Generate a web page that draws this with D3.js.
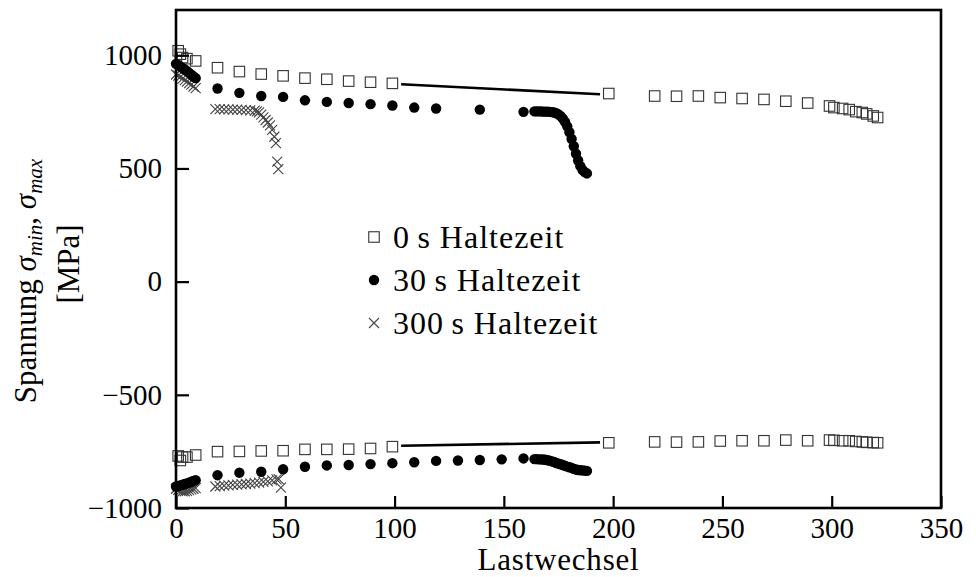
<!DOCTYPE html>
<html>
<head>
<meta charset="utf-8">
<script src="https://cdn.jsdelivr.net/npm/d3@7"></script>
<style>
  html, body { margin: 0; padding: 0; background: #fff; }
  svg { display: block; }
  text { font-family: "Liberation Serif", "Times New Roman", serif; fill: #000; }
</style>
</head>
<body>
<svg id="chart" width="976" height="577"></svg>
<script>
// Axis ticks
const xTicks = [0, 50, 100, 150, 200, 250, 300, 350];
const yTicks = [-1000, -500, 0, 500, 1000];

// 0 s hold time (squares): cycle, upper stress, lower stress
const cyc0 = [1, 2, 3, 5, 9, 19, 29, 39, 49, 59, 69, 79, 89, 99, 198, 219, 229, 239, 249, 259, 269, 279, 289, 299, 301, 305, 308, 311, 314, 316, 319, 321];
const max0 = [1020, 1005, 990, 985, 975, 945, 928, 917, 909, 899, 894, 886, 881, 876, 831, 820, 819, 820, 813, 809, 805, 797, 789, 776, 769, 765, 760, 751, 747, 741, 732, 725];
const min0 = [-770, -790, -775, -775, -766, -751, -750, -748, -747, -741, -741, -740, -737, -729, -712, -708, -709, -708, -704, -703, -703, -700, -703, -700, -701, -703, -703, -706, -708, -710, -711, -712];

// Bridging segments across the unrecorded cycles of the 0 s test
const gapCyc = [103, 194];
const gapMax = [872, 828];
const gapMin = [-725, -710];

// 30 s hold time (filled circles)
const cyc30Max = [0, 1, 2, 3, 4, 5, 6, 7, 8, 9, 19, 29, 39, 49, 59, 69, 79, 89, 99, 109, 119, 139, 159,
  164, 165, 166, 167, 168, 169, 170, 171, 172, 173, 174, 175, 176, 177, 178, 179, 180, 181, 182, 183, 184, 185, 186, 187, 188];
const max30 = [962, 957, 950, 943, 937, 930, 922, 914, 906, 899, 853, 834, 820, 816, 801, 794, 789, 784, 778, 769, 765, 760, 750,
  752, 752, 752, 752, 751, 751, 751, 750, 749, 747, 744, 739, 731, 720, 705, 686, 660, 630, 598, 565, 535, 510, 493, 484, 478];
const cyc30Min = [0, 1, 2, 3, 4, 5, 6, 7, 8, 9, 19, 29, 39, 49, 59, 69, 79, 89, 99, 109, 119, 129, 139, 149, 159,
  164, 165, 166, 167, 168, 169, 170, 171, 172, 173, 174, 175, 176, 177, 178, 179, 180, 181, 182, 183, 184, 185, 186, 187, 188];
const min30 = [-905, -903, -900, -897, -894, -891, -888, -884, -880, -877, -855, -844, -840, -829, -818, -812, -810, -806, -802, -798, -792, -790, -788, -785, -781,
  -784, -784, -785, -785, -786, -787, -789, -791, -794, -797, -801, -804, -807, -810, -814, -817, -820, -823, -827, -830, -832, -833, -834, -835, -836];

// 300 s hold time (crosses)
const cyc300Max = [0, 1, 2, 3, 4, 5, 6, 7, 8, 9, 18, 20, 22, 24, 26, 28, 30, 32, 34, 36, 37, 38, 39, 40, 41, 42, 43, 44, 45, 45.7, 46.3, 46.8];
const max300 = [915, 910, 905, 897, 890, 884, 877, 870, 862, 855, 762, 762, 761, 761, 760, 760, 759, 758, 757, 755, 752, 748, 738, 726, 714, 703, 690, 670, 640, 612, 530, 497];
const cyc300Min = [0, 1, 2, 3, 4, 5, 6, 7, 8, 9, 18, 20, 22, 24, 26, 28, 30, 32, 34, 36, 38, 40, 42, 44, 46, 47, 48];
const min300 = [-915, -920, -924, -926, -926, -924, -921, -918, -915, -912, -905, -903, -901, -900, -898, -897, -896, -894, -892, -890, -888, -885, -882, -878, -874, -872, -910];

const legendLabels = ["0\u2009s Haltezeit", "30\u2009s Haltezeit", "300\u2009s Haltezeit"];

const svg = d3.select("#chart");
const margin = { left: 176, right: 941, top: 10, bottom: 508 };

const x = d3.scaleLinear().domain([0, 350]).range([margin.left, margin.right]);
const y = d3.scaleLinear().domain([-1000, 1200]).range([margin.bottom, margin.top]);

const pts = (cs, vs) => cs.map((c, i) => [c, vs[i]]);

const plot = svg.append("g");

// Bridging lines
[gapMax, gapMin].forEach(vals => {
  plot.append("path")
    .attr("d", d3.line().x(d => x(d[0])).y(d => y(d[1]))(pts(gapCyc, vals)))
    .attr("fill", "none").attr("stroke", "#000").attr("stroke-width", 2.6);
});

// Marker helpers
const sq = 10.5;
function squares(g, data) {
  g.selectAll(null).data(data).join("rect")
    .attr("x", d => x(d[0]) - sq / 2).attr("y", d => y(d[1]) - sq / 2)
    .attr("width", sq).attr("height", sq)
    .attr("fill", "none").attr("stroke", "#333").attr("stroke-width", 1.1);
}
function circles(g, data) {
  g.selectAll(null).data(data).join("circle")
    .attr("cx", d => x(d[0])).attr("cy", d => y(d[1])).attr("r", 5.2)
    .attr("fill", "#000");
}
const cr = 5;
function crosses(g, data) {
  g.selectAll(null).data(data).join("path")
    .attr("d", d => {
      const cx = x(d[0]), cy = y(d[1]);
      return `M${cx - cr},${cy - cr}L${cx + cr},${cy + cr}M${cx - cr},${cy + cr}L${cx + cr},${cy - cr}`;
    })
    .attr("fill", "none").attr("stroke", "#444").attr("stroke-width", 1.1);
}

squares(plot.append("g"), pts(cyc0, max0));
squares(plot.append("g"), pts(cyc0, min0));
crosses(plot.append("g"), pts(cyc300Max, max300));
crosses(plot.append("g"), pts(cyc300Min, min300));
circles(plot.append("g"), pts(cyc30Max, max30));
circles(plot.append("g"), pts(cyc30Min, min30));

// Axes with inward ticks
const fs = 29;
const fmt = d3.format("d");
const xAxis = d3.axisBottom(x).tickValues(xTicks).tickFormat(fmt).tickSizeInner(-12).tickSizeOuter(0).tickPadding(9);
const gx = svg.append("g").attr("transform", `translate(0,${margin.bottom})`).call(xAxis);
gx.select(".domain").remove();
gx.selectAll(".tick line").attr("stroke", "#000").attr("stroke-width", 2.2);
gx.selectAll(".tick text").attr("font-size", fs).attr("font-family", "Liberation Serif").attr("fill", "#000");

const yAxis = d3.axisLeft(y).tickValues(yTicks).tickFormat(fmt).tickSizeInner(-13).tickSizeOuter(0).tickPadding(14);
const gy = svg.append("g").attr("transform", `translate(${margin.left},0)`).call(yAxis);
gy.select(".domain").remove();
gy.selectAll(".tick line").attr("stroke", "#000").attr("stroke-width", 2.2);
gy.selectAll(".tick text").attr("font-size", fs).attr("font-family", "Liberation Serif").attr("fill", "#000");

// Frame
svg.append("rect")
  .attr("x", margin.left).attr("y", margin.top)
  .attr("width", margin.right - margin.left).attr("height", margin.bottom - margin.top)
  .attr("fill", "none").attr("stroke", "#000").attr("stroke-width", 2.6);

// Axis titles
svg.append("text")
  .attr("x", (margin.left + margin.right) / 2).attr("y", 570)
  .attr("text-anchor", "middle").attr("font-size", 31).attr("letter-spacing", 0.8)
  .text("Lastwechsel");

const yt = svg.append("text")
  .attr("transform", "translate(36,281) rotate(-90)")
  .attr("text-anchor", "middle").attr("font-size", 31);
yt.append("tspan").text("Spannung ");
yt.append("tspan").attr("font-style", "italic").text("σ");
yt.append("tspan").attr("font-style", "italic").attr("font-size", 21).attr("dy", 6).text("min");
yt.append("tspan").attr("dy", -6).text(", ");
yt.append("tspan").attr("font-style", "italic").text("σ");
yt.append("tspan").attr("font-style", "italic").attr("font-size", 21).attr("dy", 6).text("max");

svg.append("text")
  .attr("transform", "translate(79,264) rotate(-90)")
  .attr("text-anchor", "middle").attr("font-size", 31)
  .text("[MPa]");

// Legend
const lg = svg.append("g");
const lx = 374, ly0 = 237, ldy = 43;
squares(lg.append("g"), [[x.invert(lx), y.invert(ly0)]]);
circles(lg.append("g"), [[x.invert(lx), y.invert(ly0 + ldy)]]);
crosses(lg.append("g"), [[x.invert(lx), y.invert(ly0 + 2 * ldy)]]);
legendLabels.forEach((t, i) => {
  lg.append("text")
    .attr("x", 393).attr("y", ly0 + i * ldy).attr("dy", "0.35em")
    .attr("font-size", 32).attr("letter-spacing", 1)
    .text(t);
});
</script>
</body>
</html>
